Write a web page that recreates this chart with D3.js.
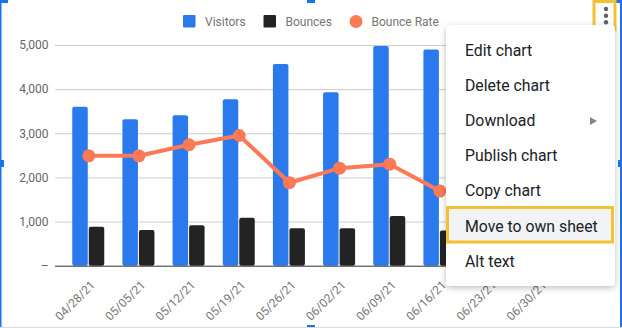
<!DOCTYPE html>
<html>
<head>
<meta charset="utf-8">
<script src="https://cdn.jsdelivr.net/npm/d3@7"></script>
<style>
  html, body { margin: 0; padding: 0; background: #fff; }
  svg { display: block; font-family: Roboto, "Noto Sans", Arial, sans-serif; }
</style>
</head>
<body>
<svg id="chart" width="622" height="328"></svg>
<script>
// Weekly traffic data
const weeks = ["04/28/21", "05/05/21", "05/12/21", "05/19/21", "05/26/21",
               "06/02/21", "06/09/21", "06/16/21", "06/23/21", "06/30/21"];
const visitors = [3600, 3320, 3410, 3770, 4570, 3930, 4980, 4900, 4650, 4450];
const bounces = [880, 810, 915, 1085, 850, 850, 1125, 795, 820, 780];
const bounceRate = [0.249, 0.249, 0.274, 0.295, 0.188, 0.221, 0.230, 0.169, 0.176, 0.175];

const yTicks = [0, 1000, 2000, 3000, 4000, 5000];
const yTickLabels = ["\u2013", "1,000", "2,000", "3,000", "4,000", "5,000"];

const seriesNames = ["Visitors", "Bounces", "Bounce Rate"];
const menuItems = ["Edit chart", "Delete chart", "Download", "Publish chart",
                   "Copy chart", "Move to own sheet", "Alt text"];

const colors = { visitors: "#2a7aee", bounces: "#232323", rate: "#fb7a55" };

const svg = d3.select("#chart");

const plot = { left: 55, right: 574, top: 45, bottom: 265.7 };

const x = d3.scaleBand().domain(weeks).range([plot.left, plot.right])
  .paddingInner(0).paddingOuter(0.173);
const xSub = d3.scaleBand().domain(["visitors", "bounces"]).range([-16.5, 15.5]).paddingInner(0.06);
const y = d3.scaleLinear().domain([0, 5000]).range([plot.bottom, plot.top]);
const yRate = d3.scaleLinear().domain([0, 0.5]).range([plot.bottom, plot.top]);
const cx = d => x(d) + x.bandwidth() / 2;

// Gridlines
svg.append("g")
  .attr("transform", `translate(${plot.left},0)`)
  .call(d3.axisLeft(y).tickValues(yTicks.slice(1)).tickSize(-(plot.right - plot.left)).tickFormat(""))
  .call(g => g.select(".domain").remove())
  .call(g => g.selectAll("line").attr("stroke", "#cccccc").attr("stroke-width", 1));

// Y axis labels
svg.append("g")
  .attr("transform", `translate(${plot.left - 6.5},0)`)
  .call(d3.axisLeft(y).tickValues(yTicks).tickSize(0).tickPadding(0)
    .tickFormat((d, i) => yTickLabels[i]))
  .call(g => g.select(".domain").remove())
  .call(g => g.selectAll("text").attr("fill", "#666666").attr("font-size", 12)
    .attr("font-family", "Roboto"));

// Bars
const groups = svg.append("g").selectAll("g").data(weeks).join("g")
  .attr("transform", d => `translate(${cx(d)},0)`);

groups.append("rect")
  .attr("x", xSub("visitors"))
  .attr("width", xSub.bandwidth())
  .attr("y", (d, i) => y(visitors[i]))
  .attr("height", (d, i) => y(0) - y(visitors[i]))
  .attr("rx", 2)
  .attr("fill", colors.visitors);

groups.append("rect")
  .attr("x", xSub("bounces"))
  .attr("width", xSub.bandwidth())
  .attr("y", (d, i) => y(bounces[i]))
  .attr("height", (d, i) => y(0) - y(bounces[i]))
  .attr("rx", 2)
  .attr("fill", colors.bounces);

// Baseline
svg.append("line")
  .attr("x1", plot.left).attr("x2", plot.right)
  .attr("y1", y(0) + 0.5).attr("y2", y(0) + 0.5)
  .attr("stroke", "#333333").attr("stroke-width", 1);

// Bounce rate line
const line = d3.line().x((d, i) => cx(weeks[i])).y(d => yRate(d));
svg.append("path")
  .datum(bounceRate)
  .attr("d", line)
  .attr("fill", "none")
  .attr("stroke", colors.rate)
  .attr("stroke-width", 4)
  .attr("stroke-linejoin", "round");

svg.append("g").selectAll("circle").data(bounceRate).join("circle")
  .attr("cx", (d, i) => cx(weeks[i]))
  .attr("cy", d => yRate(d))
  .attr("r", 6.5)
  .attr("fill", colors.rate);

// X axis labels
svg.append("g")
  .attr("transform", `translate(0,${plot.bottom})`)
  .call(d3.axisBottom(x).tickSize(0).tickPadding(0))
  .call(g => g.select(".domain").remove())
  .call(g => g.selectAll("text")
    .attr("font-size", 12)
    .attr("font-family", "Roboto")
    .attr("fill", "#777777")
    .attr("text-anchor", "end")
    .attr("dy", 0)
    .attr("y", 0)
    .attr("transform", "translate(7,20) rotate(-45)"));

// Legend
const legend = svg.append("g").attr("font-size", 12).attr("font-family", "Roboto");
const legendX = [183, 263.5, 349.5];
const legendColors = [colors.visitors, colors.bounces, colors.rate];
seriesNames.forEach((name, i) => {
  const gx = legendX[i];
  if (i < 2) {
    legend.append("rect").attr("x", gx).attr("y", 15).attr("width", 12.5).attr("height", 12.5)
      .attr("rx", 1).attr("fill", legendColors[i]);
  } else {
    legend.append("circle").attr("cx", gx + 6.5).attr("cy", 21.5).attr("r", 6.5)
      .attr("fill", legendColors[i]);
  }
  legend.append("text").attr("x", gx + 22).attr("y", 25.5).attr("fill", "#757575").text(name);
});

// Selection frame
const frame = svg.append("g").attr("fill", "#1a73e8");
frame.append("rect").attr("x", 0).attr("y", 0).attr("width", 1.5).attr("height", 328);
frame.append("rect").attr("x", 620).attr("y", 0).attr("width", 2).attr("height", 328);
frame.append("rect").attr("x", 0).attr("y", 0).attr("width", 8).attr("height", 3);
frame.append("rect").attr("x", 307).attr("y", 0).attr("width", 8).attr("height", 3);
frame.append("rect").attr("x", 614).attr("y", 0).attr("width", 8).attr("height", 3);
frame.append("rect").attr("x", 0).attr("y", 160).attr("width", 4).attr("height", 7);
frame.append("rect").attr("x", 618).attr("y", 160).attr("width", 4).attr("height", 7);
frame.append("rect").attr("x", 307).attr("y", 325).attr("width", 8).attr("height", 3);
svg.append("rect").attr("x", 0).attr("y", 327).attr("width", 622).attr("height", 1).attr("fill", "#dadce0");

// Kebab button
svg.append("rect").attr("x", 594).attr("y", 1.5).attr("width", 21).attr("height", 28)
  .attr("fill", "none").attr("stroke", "#f1c232").attr("stroke-width", 3);
[9, 15.7, 22.3].forEach(cy => {
  svg.append("circle").attr("cx", 606).attr("cy", cy).attr("r", 2.2).attr("fill", "#5f6368");
});

// Context menu
const defs = svg.append("defs");
const shadow = defs.append("filter").attr("id", "menuShadow")
  .attr("x", "-20%").attr("y", "-20%").attr("width", "140%").attr("height", "140%");
shadow.append("feDropShadow").attr("dx", 0).attr("dy", 2).attr("stdDeviation", 3)
  .attr("flood-color", "#000").attr("flood-opacity", 0.25);

const menu = svg.append("g");
menu.append("rect").attr("x", 446).attr("y", 25).attr("width", 169).attr("height", 261)
  .attr("rx", 4).attr("fill", "#fff").attr("filter", "url(#menuShadow)");
menu.append("rect").attr("x", 447.5).attr("y", 207.5).attr("width", 165).attr("height", 34.5)
  .attr("fill", "#f1f3f4").attr("stroke", "#f1c232").attr("stroke-width", 3);
menu.selectAll("text.item").data(menuItems).join("text")
  .attr("class", "item")
  .attr("x", 465)
  .attr("y", (d, i) => 56 + i * 35.1)
  .attr("font-size", 15.8)
  .attr("font-family", "Roboto")
  .attr("fill", "#202124")
  .text(d => d);
menu.append("path").attr("d", "M590,117 L597,121 L590,125 Z").attr("fill", "#858585");
</script>
</body>
</html>
